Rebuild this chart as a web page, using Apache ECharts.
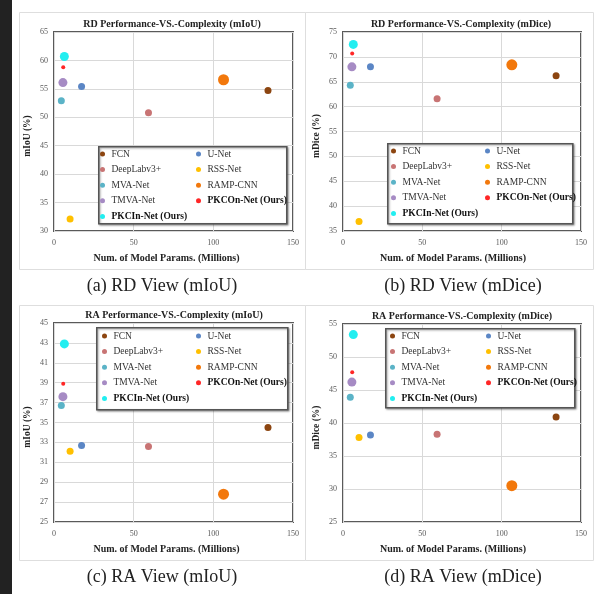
<!DOCTYPE html>
<html>
<head>
<meta charset="utf-8">
<script src="https://cdn.jsdelivr.net/npm/echarts@6/dist/echarts.min.js"></script>
<style>
html,body{margin:0;padding:0;background:#fff;}
#c{width:595px;height:594px;}
</style>
</head>
<body>
<div id="c"></div>
<script>
// ---- data ----
const models = ['FCN','U-Net','DeepLabv3+','RSS-Net','MVA-Net','RAMP-CNN','TMVA-Net','PKCOn-Net (Ours)','PKCIn-Net (Ours)'];
const params = [134.3, 17.3, 59.3, 10.1, 4.6, 106.4, 5.6, 5.8, 6.5];
const rdMiou  = [54.7, 55.4, 50.8, 32.1, 52.9, 56.6, 56.1, 58.8, 60.7];
const rdMdice = [66.2, 68.0, 61.6, 36.9, 64.3, 68.4, 68.0, 70.7, 72.5];
const raMiou  = [34.5, 32.7, 32.6, 32.1, 36.7, 27.8, 37.6, 38.9, 42.9];
const raMdice = [40.9, 38.2, 38.3, 37.8, 43.9, 30.5, 46.2, 47.7, 53.4];
const panelTitles = ['RD Performance-VS.-Complexity (mIoU)','RD Performance-VS.-Complexity (mDice)','RA Performance-VS.-Complexity (mIoU)','RA Performance-VS.-Complexity (mDice)'];
const yNames = ['mIoU (%)','mDice (%)','mIoU (%)','mDice (%)'];
const xName = 'Num. of Model Params. (Millions)';
const captions = ['(a) RD View (mIoU)','(b) RD View (mDice)','(c) RA View (mIoU)','(d) RA View (mDice)'];
const yRanges = [[30,65,5],[35,75,5],[25,45,2],[25,55,5]];
const xRange = [0,150,50];

// ---- styles ----
const colors = ['#8c4510','#5b86c5','#c87474','#ffc000','#5bb3c7','#f2780c','#a68bc4','#ff2626','#22eef0'];
const sizes = [7,7,7,7,7,11,9,4,9];
const serif = "'Liberation Serif','Times New Roman',serif";
const panels = [
  {box:[17,10,286,257], grid:[54,32,239,199], legBox:[98,146,188,77], leg1:[100,148], leg2:[196,148], capX:162, capY:286, titleX:167, nameShift:7},
  {box:[303,10,288,257], grid:[343,32,238,199], legBox:[387,143,185,80], leg1:[391,145], leg2:[485,145], capX:463, capY:286, titleX:456, nameShift:9},
  {box:[17,303,286,255], grid:[54,323,239,199], legBox:[96,327,191,82], leg1:[102,330], leg2:[196,330], capX:162, capY:577, titleX:169, nameShift:7},
  {box:[303,303,288,255], grid:[343,324,238,198], legBox:[385,328,189,79], leg1:[390,330], leg2:[486,330], capX:463, capY:577, titleX:457, nameShift:9}
];
const values = [rdMiou, rdMdice, raMiou, raMdice];

const grids=[], xAxes=[], yAxes=[], series=[], titles=[], legends=[], graphics=[];
graphics.push({type:'rect', left:0, top:0, shape:{width:12,height:594}, style:{fill:'#222'}, z:0});
panels.forEach((p,i)=>{
  graphics.push({type:'rect', left:p.box[0], top:p.box[1], shape:{width:p.box[2],height:p.box[3]}, style:{fill:'none', stroke:'#dedede', lineWidth:1}, z:0, silent:true});
  graphics.push({type:'rect', left:p.legBox[0], top:p.legBox[1], shape:{width:p.legBox[2],height:p.legBox[3]}, style:{fill:'#fff', stroke:'#555', lineWidth:1.6, shadowBlur:2, shadowColor:'rgba(0,0,0,0.35)', shadowOffsetX:1, shadowOffsetY:1}, z:3, silent:true});
  graphics.push({type:'text', x:p.capX, y:p.capY, style:{text:captions[i], fill:'#222', font:"18px "+serif, textAlign:'center', textVerticalAlign:'middle'}, z:5});
  grids.push({left:p.grid[0], top:p.grid[1], width:p.grid[2], height:p.grid[3], show:true, borderColor:'#5a5a5a', borderWidth:2, backgroundColor:'transparent'});
  xAxes.push({type:'value', gridIndex:i, min:xRange[0], max:xRange[1], interval:xRange[2],
    name:xName, nameLocation:'middle', nameGap:22,
    nameTextStyle:{fontFamily:serif, fontWeight:'bold', fontSize:10, color:'#222', padding:[0, 2*p.nameShift, 0, 0]},
    axisLine:{show:false}, axisTick:{show:false},
    axisLabel:{fontFamily:serif, fontSize:8, color:'#595959', margin:8},
    splitLine:{show:true, lineStyle:{color:'#d9d9d9', width:1}}});
  const yr = yRanges[i];
  yAxes.push({type:'value', gridIndex:i, min:yr[0], max:yr[1], interval:yr[2],
    name:yNames[i], nameLocation:'middle', nameGap:21,
    nameTextStyle:{fontFamily:serif, fontWeight:'bold', fontSize:9.5, color:'#222', padding:[0, 9, 0, 0]},
    axisLine:{show:false}, axisTick:{show:false},
    axisLabel:{fontFamily:serif, fontSize:8, color:'#595959', margin:6},
    splitLine:{show:true, lineStyle:{color:'#d9d9d9', width:1}}});
  titles.push({text:panelTitles[i], left:p.titleX, top:p.grid[1]-18, textAlign:'center',
    textStyle:{fontFamily:serif, fontWeight:'bold', fontSize:10, color:'#222'}});
  models.forEach((m,k)=>{
    series.push({type:'scatter', name:m, xAxisIndex:i, yAxisIndex:i, symbol:'circle', symbolSize:sizes[k],
      itemStyle:{color:colors[k], opacity:1}, data:[[params[k], values[i][k]]], z:2});
  });
  const legCommon = {orient:'vertical', icon:'circle', itemWidth:8, itemHeight:5, itemGap:3.6, selectedMode:false, z:4, padding:0,
    textStyle:{fontFamily:serif, fontSize:9.5, color:'#333', lineHeight:12, rich:{b:{fontFamily:serif, fontSize:9.5, fontWeight:'bold', color:'#111'}}},
    formatter:(n)=> n.indexOf('Ours')>=0 ? '{b|'+n+'}' : n};
  legends.push(Object.assign({}, legCommon, {left:p.leg1[0], top:p.leg1[1], data:[models[0],models[2],models[4],models[6],models[8]]}));
  legends.push(Object.assign({}, legCommon, {left:p.leg2[0], top:p.leg2[1], data:[models[1],models[3],models[5],models[7]]}));
});

const chart = echarts.init(document.getElementById('c'), null, {renderer:'canvas'});
chart.setOption({
  backgroundColor:'#fff',
  animation:false,
  title:titles, grid:grids, xAxis:xAxes, yAxis:yAxes, legend:legends, series:series, graphic:graphics
});
</script>
</body>
</html>
